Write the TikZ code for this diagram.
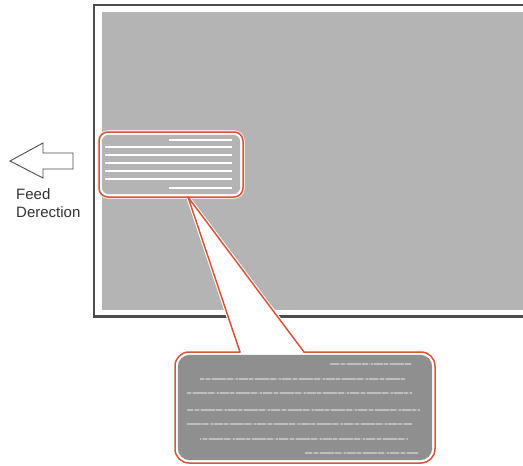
\documentclass[tikz,border=0pt]{standalone}
\usepackage{fontspec}
\setmainfont{Liberation Sans}
\definecolor{sheetgray}{HTML}{B4B4B4}
\definecolor{zoomgray}{HTML}{8F8F8F}
\definecolor{framegray}{HTML}{4D4D4D}
\definecolor{calloutred}{HTML}{D9553A}
\definecolor{textgray}{HTML}{333333}
\definecolor{fuzzline}{HTML}{BDBDBD}
\definecolor{fuzzbase}{HTML}{9E9E9E}
\tikzset{
  frameline/.style={draw=framegray, line width=2.2pt},
  redline/.style={draw=calloutred, line width=1.5pt, line cap=round, line join=round},
  whiteline/.style={draw=white, line width=2pt},
  fuzzbg/.style={draw=fuzzbase, line width=2pt},
  fuzz/.style={draw=fuzzline, line width=1.3pt, dash pattern=on 9pt off 1.5pt on 4pt off 2pt on 14pt off 1pt on 6pt off 3pt on 2pt off 1pt},
  feedarrow/.style={draw=framegray, line width=0.9pt, fill=white, line join=miter},
  labeltext/.style={text=textgray, font=\fontsize{15}{18}\selectfont, align=left, inner sep=0pt}
}
\begin{document}
\begin{tikzpicture}[x=1pt, y=-1pt]
\useasboundingbox (0,0) rectangle (523,466);
\fill[white] (0,0) rectangle (523,466);
% sheet
\fill[sheetgray] (101.5,11.5) rectangle (524,309.5);
\draw[frameline] (525,5) -- (94,5) -- (94,316.5) -- (525,316.5);
% callout wedge
\coordinate (apex) at (188,197);
\coordinate (wl) at (240,352);
\coordinate (wr) at (304,352);
\fill[white] (apex) -- (wl) -- (wr) -- cycle;
\draw[white, line width=3.5pt] (apex) -- (wl) (apex) -- (wr);
% small box
\draw[white!85!calloutred, line width=3.6pt, rounded corners=9pt] (99,132) rectangle (243,197);
\filldraw[fill=white, redline, rounded corners=9pt] (99,132) rectangle (243,197);
\fill[sheetgray, rounded corners=7pt] (101.8,134.8) rectangle (240.2,194.2);
\draw[whiteline] (169,139.5) -- (232,139.5);
\foreach \yy in {147,155,163,171,179} \draw[whiteline] (105,\yy) -- (232,\yy);
\draw[whiteline] (169,187.5) -- (232,187.5);
% zoom box
\fill[white, rounded corners=14pt] (175,352) rectangle (435,463);
\fill[zoomgray, rounded corners=12pt] (177.8,354.8) rectangle (432.2,460.2);
\foreach \xa/\xb/\yy/\ph in {330/412/364/0, 200/405/379/5, 187/412/393/11, 187/420/410/3, 187/412/424/17, 200/407/439/8, 305/418/453/2}{
  \draw[fuzzbg] (\xa,\yy) -- (\xb,\yy);
  \draw[fuzz, dash phase=\ph pt] (\xa,\yy) -- (\xb,\yy);
}
\draw[redline, rounded corners=14pt] (wl) -- (175,352) -- (175,463) -- (435,463) -- (435,352) -- (wr);
\draw[redline] (wl) -- (apex) -- (wr);
% feed arrow
\draw[feedarrow] (10,161) -- (43,143) -- (43,153) -- (73,153) -- (73,169) -- (43,169) -- (43,178) -- cycle;
\node[labeltext, anchor=north west] (feed) at (16,188.5) {Feed\\Derection};
\end{tikzpicture}
\end{document}
